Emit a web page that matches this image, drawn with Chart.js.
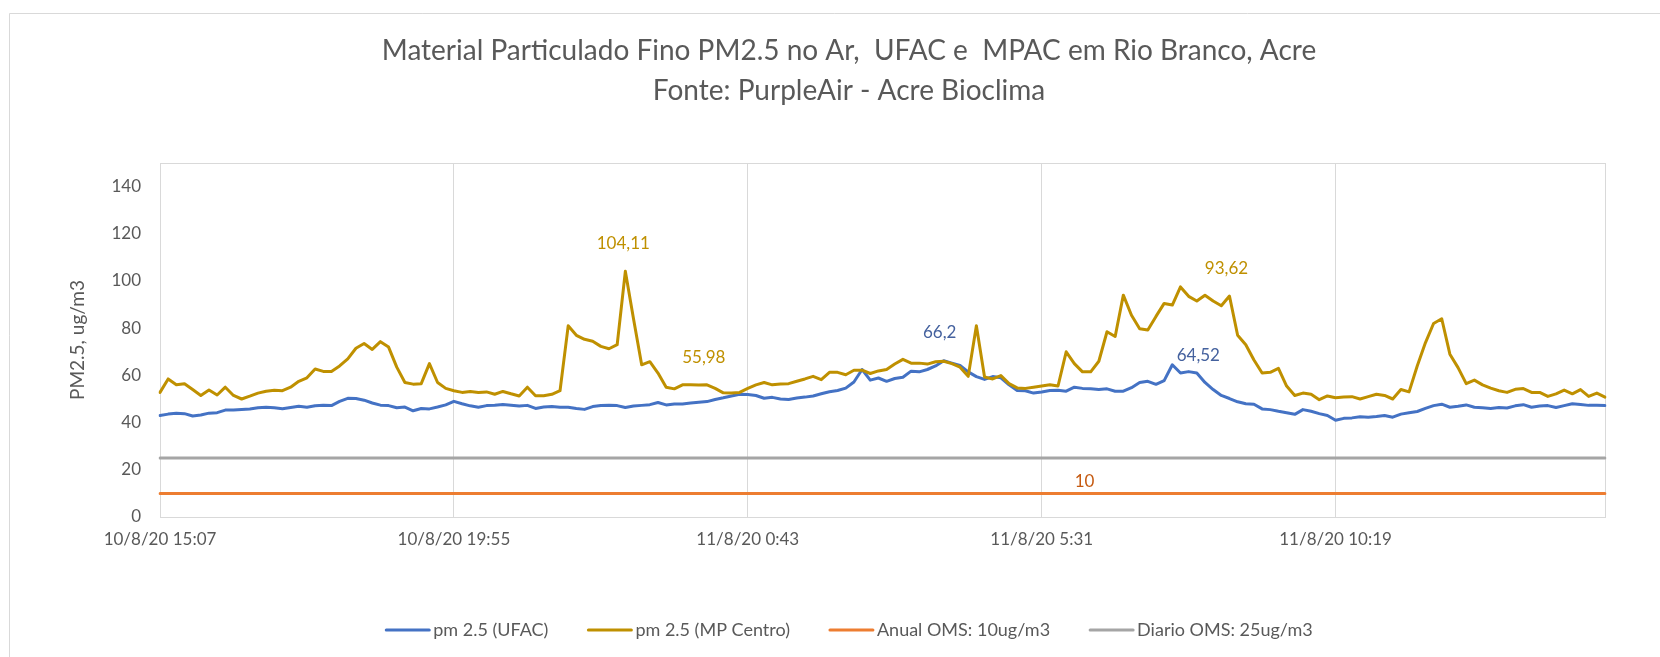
<!DOCTYPE html>
<html>
<head>
<meta charset="utf-8">
<script src="https://cdn.jsdelivr.net/npm/chart.js@4.4.1/dist/chart.umd.min.js"></script>
<style>
html,body{margin:0;padding:0;background:#fff;}
#wrap{width:1660px;height:657px;position:relative;}
</style>
</head>
<body>
<div id="wrap"><canvas id="c" width="1660" height="657"></canvas></div>
<script>
// ---- Data ----
const titleLines = ['Material Particulado Fino PM2.5 no Ar,  UFAC e  MPAC em Rio Branco, Acre', 'Fonte: PurpleAir - Acre Bioclima'];
const yAxisTitle = 'PM2.5, ug/m3';
const seriesNames = ['pm 2.5 (UFAC)', 'pm 2.5 (MP Centro)', 'Anual OMS: 10ug/m3', 'Diario OMS: 25ug/m3'];
const tickLabels = ['10/8/20 15:07', '10/8/20 19:55', '11/8/20 0:43', '11/8/20 5:31', '11/8/20 10:19'];
const tickEvery = 36;            // categories between labelled ticks (8-minute samples)
const startTime = {day: 10, month: 8, year: 20, hour: 15, minute: 7};
const stepMinutes = 8;

const ufac = [
  43.0, 43.6, 44.0, 43.8, 42.8, 43.2, 44.0, 44.2, 45.3, 45.3, 45.6, 45.8, 46.3, 46.5, 46.3, 45.9, 46.4, 46.9,
  46.5, 47.1, 47.3, 47.2, 49.0, 50.3, 50.2, 49.5, 48.3, 47.4, 47.2, 46.3, 46.6, 45.0, 46.0, 45.8, 46.6, 47.5,
  49.0, 48.0, 47.1, 46.5, 47.2, 47.4, 47.7, 47.4, 47.0, 47.3, 46.0, 46.6, 46.8, 46.5, 46.5, 46.0, 45.6, 46.8,
  47.2, 47.4, 47.2, 46.4, 47.0, 47.3, 47.6, 48.5, 47.5, 47.9, 47.9, 48.3, 48.6, 48.9, 49.8, 50.5, 51.3, 52.0,
  51.9, 51.5, 50.3, 50.7, 50.0, 49.8, 50.4, 50.8, 51.3, 52.2, 53.1, 53.6, 54.6, 57.2, 62.5, 58.0, 58.9, 57.5,
  58.7, 59.2, 61.8, 61.5, 62.5, 64.0, 66.2, 65.2, 64.2, 61.5, 59.5, 58.3, 59.5, 59.0, 56.0, 53.6, 53.5, 52.5,
  53.0, 53.6, 53.7, 53.3, 55.0, 54.5, 54.3, 54.0, 54.3, 53.3, 53.3, 54.8, 57.0, 57.5, 56.2, 57.8, 64.52, 61.0,
  61.6, 61.0, 57.0, 54.0, 51.5, 50.2, 48.8, 48.0, 47.8, 45.8, 45.5, 44.8, 44.2, 43.5, 45.5, 44.8, 43.8, 43.0,
  41.0, 41.8, 42.0, 42.5, 42.3, 42.6, 43.0, 42.3, 43.6, 44.2, 44.7, 46.0, 47.2, 47.8, 46.5, 46.9, 47.5, 46.5,
  46.3, 46.0, 46.4, 46.2, 47.1, 47.6, 46.5, 47.0, 47.2, 46.4, 47.2, 48.0, 47.7, 47.3, 47.3, 47.2
];
const mpCentro = [
  52.8, 58.5, 56.0, 56.5, 54.0, 51.5, 53.8, 51.7, 55.0, 51.5, 50.0, 51.2, 52.5, 53.3, 53.7, 53.5, 55.0, 57.5,
  59.0, 62.7, 61.7, 61.7, 64.0, 67.0, 71.5, 73.5, 71.0, 74.3, 72.0, 63.5, 57.0, 56.3, 56.5, 65.0, 57.0, 54.5,
  53.5, 52.8, 53.2, 52.8, 53.0, 52.0, 53.2, 52.2, 51.3, 55.0, 51.4, 51.4, 52.0, 53.5, 81.0, 77.0, 75.3, 74.5,
  72.3, 71.3, 73.0, 104.11, 84.0, 64.5, 65.8, 61.0, 55.0, 54.3, 56.0, 56.0, 55.98, 56.0, 54.5, 52.6, 52.5, 52.8,
  54.5, 56.0, 57.0, 56.0, 56.4, 56.5, 57.5, 58.5, 59.6, 58.2, 61.3, 61.3, 60.3, 62.2, 62.2, 60.8, 61.9, 62.5,
  64.8, 66.8, 65.2, 65.2, 64.8, 65.8, 66.0, 65.0, 63.5, 59.6, 81.0, 59.3, 58.5, 59.9, 56.5, 54.7, 54.5, 55.0,
  55.5, 56.0, 55.5, 70.0, 65.0, 61.5, 61.5, 66.0, 78.5, 76.5, 94.0, 85.5, 79.8, 79.2, 85.0, 90.5, 89.8, 97.5,
  93.5, 91.5, 94.0, 91.5, 89.5, 93.62, 77.0, 73.0, 66.5, 61.0, 61.3, 63.0, 55.5, 51.5, 52.5, 52.0, 49.7, 51.3,
  50.5, 50.8, 51.0, 50.0, 51.0, 52.0, 51.5, 50.0, 54.0, 53.0, 64.0, 73.8, 82.0, 84.0, 69.0, 63.3, 56.5, 58.0,
  56.0, 54.6, 53.5, 52.8, 54.1, 54.4, 52.8, 52.8, 51.1, 52.2, 53.8, 52.2, 54.0, 51.1, 52.5, 50.8
];
const anualOMS = 10;
const diarioOMS = 25;

// data labels shown on single points: [dataset index, category index]
const labelPoints = [
  {ds: 1, index: 57}, {ds: 1, index: 66}, {ds: 0, index: 96},
  {ds: 1, index: 131}, {ds: 0, index: 124}, {ds: 2, index: 113}
];

// ---- Build categories (time stamps every 8 minutes) ----
function buildCategories(n) {
  const out = [];
  const base = new Date(2000 + startTime.year, startTime.month - 1, startTime.day, startTime.hour, startTime.minute);
  for (let i = 0; i < n; i++) {
    const d = new Date(base.getTime() + i * stepMinutes * 60000);
    const mm = String(d.getMinutes()).padStart(2, '0');
    out.push(d.getDate() + '/' + (d.getMonth() + 1) + '/' + String(d.getFullYear()).slice(2) + ' ' + d.getHours() + ':' + mm);
  }
  return out;
}
const categories = buildCategories(ufac.length);

// ---- Styles ----
const FONT = 'Lato, "Open Sans", sans-serif';
const TEXT = '#595959';
const COLORS = ['#4472C4', '#BF9000', '#ED7D31', '#A5A5A5'];
const LABEL_STYLE = [
  {color: '#BF9000', dx: -2, dy: -28},
  {color: '#BF9000', dx: 5, dy: -27},
  {color: '#44619E', dx: -4, dy: -28},
  {color: '#BF9000', dx: -3, dy: -28},
  {color: '#44619E', dx: 26, dy: -9},
  {color: '#C55A11', dx: 2, dy: -12}
];

const decor = {
  id: 'decor',
  beforeDraw(chart) {
    const ctx = chart.ctx;
    ctx.save();
    ctx.fillStyle = '#ffffff';
    ctx.fillRect(0, 0, chart.width, chart.height);
    ctx.strokeStyle = '#D9D9D9';
    ctx.lineWidth = 1;
    ctx.beginPath();
    ctx.moveTo(9.5, chart.height);
    ctx.lineTo(9.5, 13.5);
    ctx.lineTo(chart.width, 13.5);
    ctx.stroke();
    const a = chart.chartArea;
    ctx.strokeRect(Math.round(a.left) + 0.5, Math.round(a.top) + 0.5, Math.round(a.right - a.left), Math.round(a.bottom - a.top));
    ctx.restore();
  },
  afterDatasetsDraw(chart) {
    const ctx = chart.ctx;
    ctx.save();
    ctx.font = '17px ' + FONT;
    ctx.textAlign = 'center';
    ctx.textBaseline = 'middle';
    labelPoints.forEach((lp, k) => {
      const el = chart.getDatasetMeta(lp.ds).data[lp.index];
      const v = chart.data.datasets[lp.ds].data[lp.index];
      const st = LABEL_STYLE[k];
      ctx.fillStyle = st.color;
      ctx.fillText(String(v).replace('.', ','), el.x + st.dx, el.y + st.dy);
    });
    ctx.restore();
  },
  afterDraw(chart) {
    const ctx = chart.ctx;
    const cx = 849;
    ctx.save();
    // title
    ctx.fillStyle = TEXT;
    ctx.font = '28px ' + FONT;
    ctx.textAlign = 'center';
    ctx.textBaseline = 'middle';
    ctx.fillText(titleLines[0], cx, 51);
    ctx.fillText(titleLines[1], cx, 91);
    // legend
    ctx.font = '18px ' + FONT;
    ctx.textAlign = 'left';
    const sample = 45, gapText = 3, gapItem = 39;
    const items = chart.data.datasets.map(d => ({label: d.label, color: d.borderColor, w: ctx.measureText(d.label).width}));
    let total = items.reduce((s, it) => s + sample + gapText + it.w, 0) + gapItem * (items.length - 1);
    let x = cx - total / 2;
    const y = 630;
    items.forEach(it => {
      ctx.strokeStyle = it.color;
      ctx.lineWidth = 3;
      ctx.lineCap = 'round';
      ctx.beginPath();
      ctx.moveTo(x + 1, y);
      ctx.lineTo(x + sample - 1, y);
      ctx.stroke();
      ctx.fillStyle = TEXT;
      ctx.fillText(it.label, x + sample + gapText, y);
      x += sample + gapText + it.w + gapItem;
    });
    ctx.restore();
  }
};

const lineDs = (label, data, color, order) => ({
  label, data, borderColor: color, backgroundColor: color,
  borderWidth: 3, pointRadius: 0, pointHoverRadius: 0, tension: 0,
  borderJoinStyle: 'round', borderCapStyle: 'round', fill: false, order
});

new Chart(document.getElementById('c'), {
  type: 'line',
  data: {
    labels: categories,
    datasets: [
      lineDs(seriesNames[0], ufac, COLORS[0], 4),
      lineDs(seriesNames[1], mpCentro, COLORS[1], 3),
      lineDs(seriesNames[2], categories.map(() => anualOMS), COLORS[2], 2),
      lineDs(seriesNames[3], categories.map(() => diarioOMS), COLORS[3], 1)
    ]
  },
  options: {
    responsive: false,
    animation: false,
    events: [],
    layout: {padding: {left: 60, right: 55, top: 163, bottom: 0}},
    plugins: {legend: {display: false}, title: {display: false}, tooltip: {enabled: false}},
    scales: {
      x: {
        type: 'category',
        offset: false,
        border: {display: false},
        grid: {display: true, color: '#D9D9D9', lineWidth: 1, drawTicks: false},
        ticks: {
          autoSkip: false, maxRotation: 0, minRotation: 0, padding: 12,
          color: TEXT, font: {family: FONT, size: 17},
          callback: (v, i) => (i % tickEvery === 0 ? tickLabels[i / tickEvery] : null)
        },
        afterFit: s => { s.height = 140; }
      },
      y: {
        min: 0, max: 150,
        border: {display: false},
        grid: {display: false, drawTicks: false},
        ticks: {
          stepSize: 20, padding: 19, color: TEXT, font: {family: FONT, size: 17},
          callback: v => (v % 20 === 0 ? String(v) : null)
        },
        title: {display: true, text: yAxisTitle, color: TEXT, font: {family: FONT, size: 19}, padding: {top: 6, bottom: 0}},
        afterFit: s => { s.width = 100; }
      }
    }
  },
  plugins: [decor]
});
</script>
</body>
</html>
